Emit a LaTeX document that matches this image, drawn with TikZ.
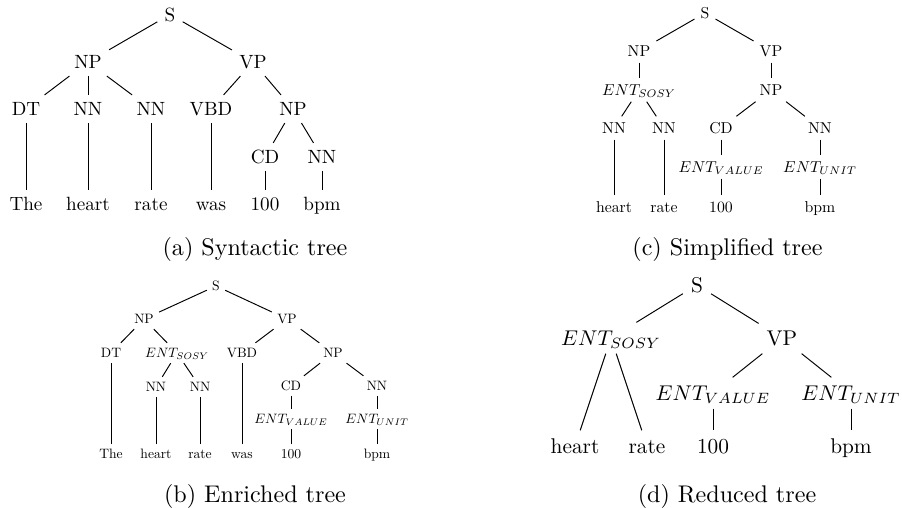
\documentclass[tikz,border=0pt]{standalone}
\usepackage{tikz}
\usepackage{graphicx}

% one size per tree, set at 10pt and shrunk
\newcommand{\syntag}[1]{\scalebox{0.795}{#1}}
\newcommand{\enrtag}[1]{\scalebox{0.565}{#1}}
\newcommand{\smptag}[1]{\scalebox{0.655}{#1}}
\newcommand{\rdctag}[1]{\scalebox{0.885}{#1}}

\begin{document}
\begin{tikzpicture}[x=0.415pt,y=-0.415pt]
        \tikzstyle{syn}=[inner sep=2.86pt,text height=5.57pt,text depth=0pt]
        \tikzstyle{enr}=[inner sep=2.03pt,text height=3.96pt,text depth=0pt]
        \tikzstyle{smp}=[inner sep=2.36pt,text height=4.59pt,text depth=0pt]
        \tikzstyle{rdc}=[inner sep=3.19pt,text height=6.2pt,text depth=0pt]
        \tikzstyle{caption}=[inner sep=3.3pt,text height=7pt,text depth=0pt]

        \useasboundingbox (0,0) rectangle (902,508);

        % (a) syntactic tree
        \node[syn] (A01) at (170,14.5) {\syntag{S}};
        \node[syn] (A02) at (88,62)    {\syntag{NP}};
        \node[syn] (A03) at (253,62)   {\syntag{VP}};
        \node[syn] (A04) at (26,109)   {\syntag{DT}};
        \node[syn] (A05) at (88,109)   {\syntag{NN}};
        \node[syn] (A06) at (151,109)  {\syntag{NN}};
        \node[syn] (A07) at (211,109)  {\syntag{VBD}};
        \node[syn] (A08) at (293,109)  {\syntag{NP}};
        \node[syn] (A09) at (265,157)  {\syntag{CD}};
        \node[syn] (A10) at (322,157)  {\syntag{NN}};
        \node[syn] (A11) at (26,204)   {\syntag{The}};
        \node[syn] (A12) at (88,204)   {\syntag{heart}};
        \node[syn] (A13) at (151,204)  {\syntag{rate}};
        \node[syn] (A14) at (211,204)  {\syntag{was}};
        \node[syn] (A15) at (265,204)  {\syntag{100}};
        \node[syn] (A16) at (322,204)  {\syntag{bpm}};
        \node[caption] (CA) at (255,247.5) {(a) Syntactic tree};

        % (b) enriched tree
        \node[enr] (B01) at (216,286)  {\enrtag{S}};
        \node[enr] (B02) at (144,319)  {\enrtag{NP}};
        \node[enr] (B03) at (287,319)  {\enrtag{VP}};
        \node[enr] (B04) at (111,353)  {\enrtag{DT}};
        \node[enr] (B05) at (177,353)  {\enrtag{$ENT_{SOSY}$}};
        \node[enr] (B06) at (242,353)  {\enrtag{VBD}};
        \node[enr] (B07) at (333,353)  {\enrtag{NP}};
        \node[enr] (B08) at (156,387)  {\enrtag{NN}};
        \node[enr] (B09) at (200,387)  {\enrtag{NN}};
        \node[enr] (B10) at (291,386)  {\enrtag{CD}};
        \node[enr] (B11) at (377,386)  {\enrtag{NN}};
        \node[enr] (B12) at (291,419)  {\enrtag{$ENT_{VALUE}$}};
        \node[enr] (B13) at (377,419)  {\enrtag{$ENT_{UNIT}$}};
        \node[enr] (B14) at (111,454)  {\enrtag{The}};
        \node[enr] (B15) at (156,454)  {\enrtag{heart}};
        \node[enr] (B16) at (200,454)  {\enrtag{rate}};
        \node[enr] (B17) at (242,454)  {\enrtag{was}};
        \node[enr] (B18) at (291,454)  {\enrtag{100}};
        \node[enr] (B19) at (377,454)  {\enrtag{bpm}};
        \node[caption] (CB) at (255,494.5) {(b) Enriched tree};

        % (c) simplified tree
        \node[smp] (C01) at (705,13)   {\smptag{S}};
        \node[smp] (C02) at (639,51)   {\smptag{NP}};
        \node[smp] (C03) at (771,51)   {\smptag{VP}};
        \node[smp] (C04) at (639,90)   {\smptag{$ENT_{SOSY}$}};
        \node[smp] (C05) at (771,90)   {\smptag{NP}};
        \node[smp] (C06) at (614,128)  {\smptag{NN}};
        \node[smp] (C07) at (664,128)  {\smptag{NN}};
        \node[smp] (C08) at (721,128)  {\smptag{CD}};
        \node[smp] (C09) at (820,128)  {\smptag{NN}};
        \node[smp] (C10) at (721,167)  {\smptag{$ENT_{VALUE}$}};
        \node[smp] (C11) at (820,167)  {\smptag{$ENT_{UNIT}$}};
        \node[smp] (C12) at (614,207)  {\smptag{heart}};
        \node[smp] (C13) at (664,207)  {\smptag{rate}};
        \node[smp] (C14) at (721,207)  {\smptag{100}};
        \node[smp] (C15) at (820,207)  {\smptag{bpm}};
        \node[caption] (CC) at (727.5,247.5) {(c) Simplified tree};

        % (d) reduced tree
        \node[rdc] (D01) at (697,285)  {\rdctag{S}};
        \node[rdc] (D02) at (611,338)  {\rdctag{$ENT_{SOSY}$}};
        \node[rdc] (D03) at (782,338)  {\rdctag{VP}};
        \node[rdc] (D04) at (713,393)  {\rdctag{$ENT_{VALUE}$}};
        \node[rdc] (D05) at (851,393)  {\rdctag{$ENT_{UNIT}$}};
        \node[rdc] (D06) at (575,446)  {\rdctag{heart}};
        \node[rdc] (D07) at (647,446)  {\rdctag{rate}};
        \node[rdc] (D08) at (713,446)  {\rdctag{100}};
        \node[rdc] (D09) at (851,446)  {\rdctag{bpm}};
        \node[caption] (CD) at (727,494.5) {(d) Reduced tree};

        \path[-]
                  (A01) edge (A02) edge (A03)% (a)
                  (A02) edge (A04) edge (A05) edge (A06)
                  (A03) edge (A07) edge (A08)
                  (A08) edge (A09) edge (A10)
                  (A04) edge (A11)
                  (A05) edge (A12)
                  (A06) edge (A13)
                  (A07) edge (A14)
                  (A09) edge (A15)
                  (A10) edge (A16)
                  (B01) edge (B02) edge (B03)% (b)
                  (B02) edge (B04) edge (B05)
                  (B03) edge (B06) edge (B07)
                  (B05) edge (B08) edge (B09)
                  (B07) edge (B10) edge (B11)
                  (B10) edge (B12)
                  (B11) edge (B13)
                  (B04) edge (B14)
                  (B08) edge (B15)
                  (B09) edge (B16)
                  (B06) edge (B17)
                  (B12) edge (B18)
                  (B13) edge (B19)
                  (C01) edge (C02) edge (C03)% (c)
                  (C02) edge (C04)
                  (C03) edge (C05)
                  (C04) edge (C06) edge (C07)
                  (C05) edge (C08) edge (C09)
                  (C08) edge (C10)
                  (C09) edge (C11)
                  (C06) edge (C12)
                  (C07) edge (C13)
                  (C10) edge (C14)
                  (C11) edge (C15)
                  (D01) edge (D02) edge (D03)% (d)
                  (D03) edge (D04) edge (D05)
                  (D02) edge (D06) edge (D07)
                  (D04) edge (D08)
                  (D05) edge (D09);
\end{tikzpicture}
\end{document}
